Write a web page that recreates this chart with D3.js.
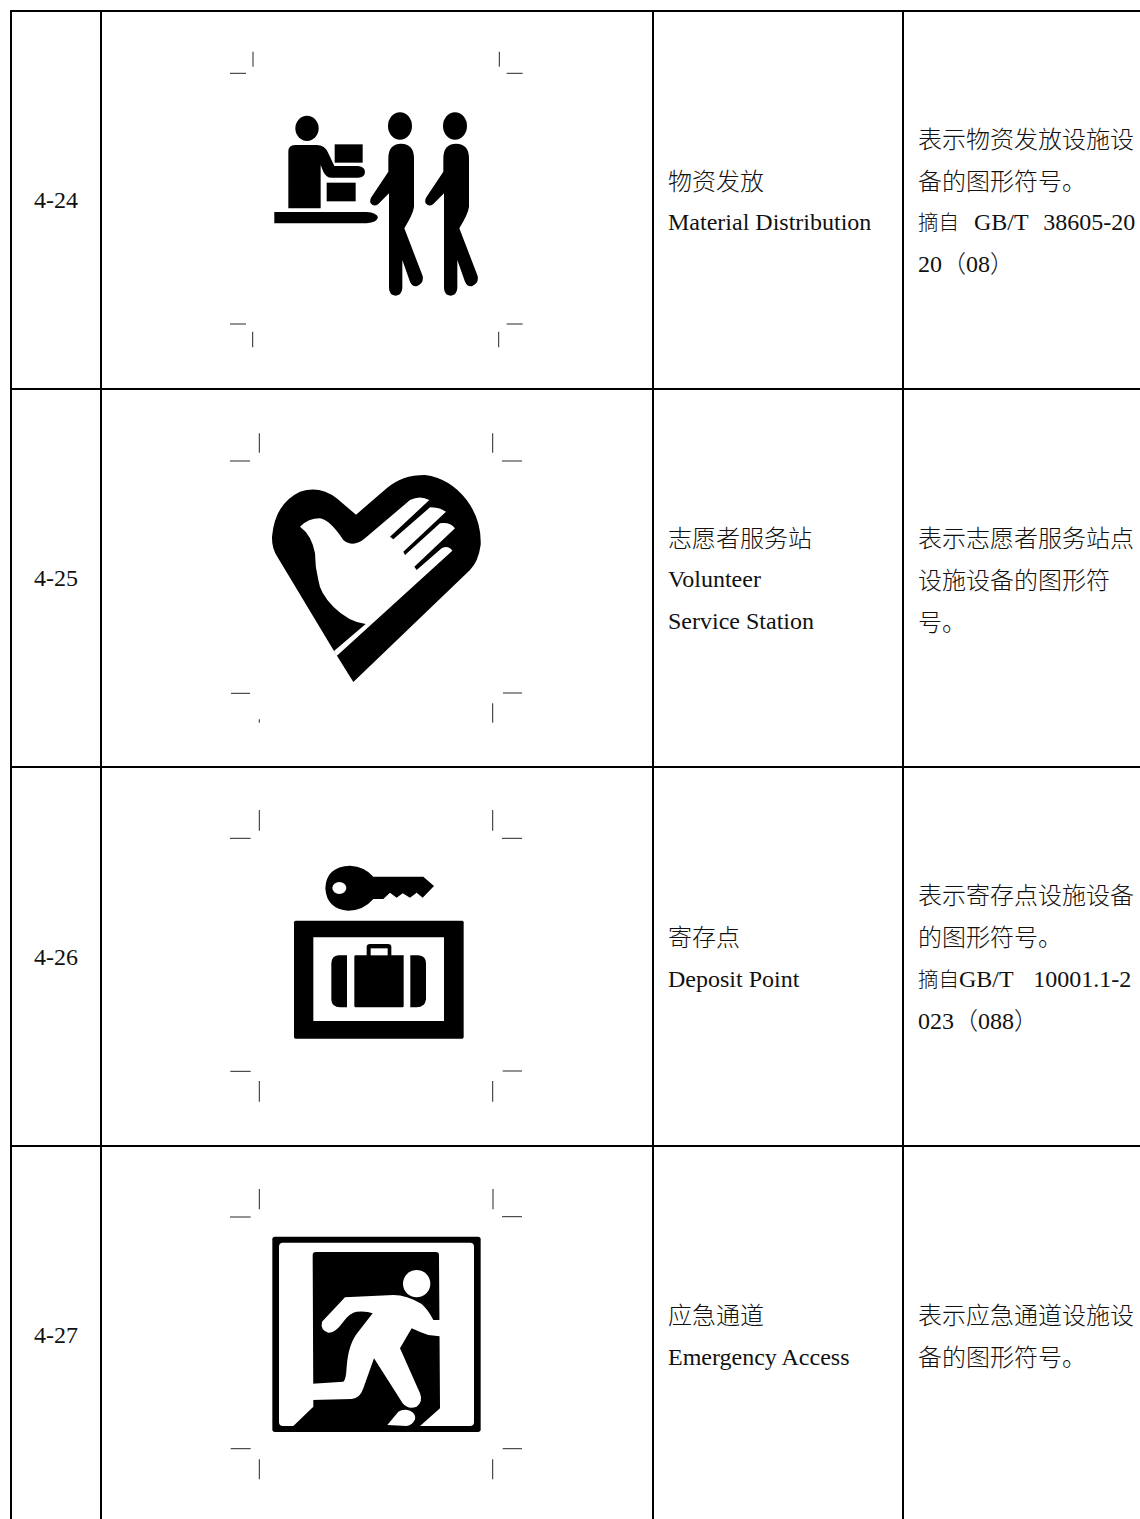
<!DOCTYPE html>
<html lang="zh">
<head>
<meta charset="utf-8">
<title>图形符号</title>
<script src="https://cdn.jsdelivr.net/npm/d3@7"></script>
<style>
  html, body { margin: 0; padding: 0; background: #fff; }
  svg { display: block; }
  text { font-family: "Liberation Serif", "Noto Sans CJK SC", serif; font-size: 24px; font-weight: 300; fill: #111; white-space: pre; }
</style>
</head>
<body>
<div id="chart"></div>
<script>
const codes = ['4-24', '4-25', '4-26', '4-27'];
const names = [
    ['物资发放', 'Material Distribution'],
    ['志愿者服务站', 'Volunteer', 'Service Station'],
    ['寄存点', 'Deposit Point'],
    ['应急通道', 'Emergency Access']
];
const descriptions = [
    ['表示物资发放设施设', '备的图形符号。', '摘自 GB/T 38605-20', '20（08）'],
    ['表示志愿者服务站点', '设施设备的图形符', '号。'],
    ['表示寄存点设施设备', '的图形符号。', '摘自GB/T 10001.1-2', '023（088）'],
    ['表示应急通道设施设', '备的图形符号。']
];
const icons = ['distribution', 'volunteer', 'deposit', 'exit'];

const width = 1140;
const height = 1519;
const columnEdges = [11, 101, 653, 903];
const rowEdges = [11, 389, 767, 1146, 1523];
const lineStep = 42;
// the source justifies these lines, so the space before the number differs per row
const citeGaps = [9, 0, 14, 0];

// icon outlines are traced at 3x, one origin per row
const iconOrigin = d3.scaleOrdinal().domain(icons).range([30, 420, 800, 1180]);
const iconLeft = 220;

const walker = 'M505,385Q505,342 543,341Q582,342 582,385L582,530Q580,550 553,595L608,738Q612,760 592,768Q578,772 570,755L547,690L547,775Q545,796 527,797Q508,796 507,775L507,490L475,522Q462,532 452,520Q448,510 455,500L505,425Z';

const iconParts = {
    distribution: [
        { d: 'M226,295a35,38 0 1,0 70,0a35,38 0 1,0 -70,0Z' },
        { d: 'M205,535L205,365Q205,345 225,345L290,345Q315,345 325,370L343,408L415,408Q435,410 435,427Q433,443 415,443L335,443Q318,443 310,425L302,405L302,535Z' },
        { d: 'M344,343H428V398H344Z' },
        { d: 'M320,458H407V514H320Z' },
        { d: 'M163,546L440,546Q470,548 474,562Q470,578 440,580L163,580Z' },
        { d: 'M504,288a36,41 0 1,0 72,0a36,41 0 1,0 -72,0Z' },
        { d: walker },
        { d: 'M669,288a36,41 0 1,0 72,0a36,41 0 1,0 -72,0Z' },
        { d: walker, shift: 165 }
    ],
    volunteer: [
        { d: 'M400,786L342,693L172,410Q155,385 156,350Q165,250 240,215Q300,195 350,235L408,284L500,205Q545,165 615,165Q690,175 740,240Q785,300 782,375Q775,425 750,450Z' },
        { d: 'M240,320Q265,295 300,295Q330,300 370,360Q400,385 435,355L570,240Q600,225 628,240L510,350L520,358L630,262Q660,262 678,275L550,395L555,405L660,310Q690,305 705,325L583,440L590,450L665,385Q685,375 697,392L350,708L342,693L437,612Q385,605 340,560Q300,520 295,480Q285,440 285,400Q275,345 240,320Z', fill: '#fff' }
    ],
    deposit: [
        { d: 'M316,265Q318,200 390,197Q435,200 460,230L610,230L642,258L608,293L590,278L570,293L548,280L530,293L510,278L490,297L460,297Q430,332 385,332Q320,328 316,265Z' },
        { d: 'M337,264a21,18 0 1,0 42,0a21,18 0 1,0 -42,0Z', fill: '#fff' },
        { d: 'M227,362H726Q731,362 731,367V711Q731,716 726,716H227Q222,716 222,711V367Q222,362 227,362Z' },
        { d: 'M280,412H672V663H280Z', fill: '#fff' },
        { d: 'M407,466H551V618Q551,622 547,622H407Q403,622 403,618V470Q403,466 407,466Z' },
        { d: 'M450,432H504Q514,432 514,442V470H440V442Q440,432 450,432Z' },
        { d: 'M452,445H503V466H452Z', fill: '#fff' },
        { d: 'M381,466L355,466Q335,468 334,490L334,600Q336,622 360,622L381,622Z' },
        { d: 'M571,466L595,466Q618,468 618,490L618,598Q615,622 590,622L571,622Z' }
    ],
    exit: [
        { d: 'M165,170H774Q782,170 782,178V748Q782,756 774,756H165Q157,756 157,748V178Q157,170 165,170Z' },
        { d: 'M189,188H750Q762,188 762,200V726Q762,738 750,738H189Q177,738 177,726V200Q177,188 189,188Z', fill: '#fff' },
        { d: 'M278,226Q278,216 288,216L647,216Q657,216 657,226L660,685L600,738L220,738L280,680Z' },
        { d: 'M549,311a41,41 0 1,0 82,0a41,41 0 1,0 -82,0Z', fill: '#fff' },
        { d: 'M375,352L520,345Q560,345 605,372Q625,390 640,420L672,420L672,470L625,465Q595,455 575,445L540,505L600,640Q610,665 590,680Q565,690 548,670L462,535L430,625Q420,655 395,657L275,660Q245,655 245,632Q247,612 265,612L370,605Q378,600 380,560Q385,490 415,455L458,400Q440,392 410,395Q390,398 370,425Q345,460 325,458Q300,450 306,425Z', fill: '#fff' },
        { d: 'M502,735L535,695Q550,685 570,692Q588,700 585,718Q578,735 560,738Z', fill: '#fff' }
    ]
};

// crop marks around each icon, same 3x units
const cropMarks = {
    distribution: ['M99,65V110', 'M30,130H78', 'M838,65V110', 'M860,130H908', 'M30,882H78', 'M98,905V952', 'M860,882H908', 'M836,905V952'],
    volunteer: ['M118,40V98', 'M30,123H90', 'M818,40V98', 'M846,123H906', 'M33,820H90', 'M118,898V908', 'M849,819H906', 'M818,850V908'],
    deposit: ['M118,30V92', 'M30,115H92', 'M818,30V92', 'M846,115H906', 'M31,814H92', 'M118,843V905', 'M848,813H906', 'M818,843V905'],
    exit: ['M118,27V88', 'M30,111H92', 'M819,27V88', 'M846,110H906', 'M32,806H92', 'M118,838V898', 'M848,806H906', 'M818,838V898']
};

const svg = d3.select('#chart')
    .append('svg')
    .attr('width', width)
    .attr('height', height);

const rowCenter = (i) => (rowEdges[i] + rowEdges[i + 1]) / 2;

// table rules
svg.append('g')
    .selectAll('line')
    .data(columnEdges)
    .enter()
    .append('line')
    .attr('x1', (d) => d)
    .attr('x2', (d) => d)
    .attr('y1', rowEdges[0] - 1)
    .attr('y2', height)
    .attr('stroke', '#000')
    .attr('stroke-width', 2);

svg.append('g')
    .selectAll('line')
    .data(rowEdges.slice(0, 4))
    .enter()
    .append('line')
    .attr('x1', columnEdges[0] - 1)
    .attr('x2', width)
    .attr('y1', (d) => d)
    .attr('y2', (d) => d)
    .attr('stroke', '#000')
    .attr('stroke-width', 2);

// icons
const iconGroups = svg.append('g')
    .selectAll('g')
    .data(icons)
    .enter()
    .append('g')
    .attr('transform', (d) => `translate(${iconLeft}, ${iconOrigin(d)}) scale(${1 / 3})`);

iconGroups.selectAll('path.part')
    .data((d) => iconParts[d])
    .enter()
    .append('path')
    .attr('class', 'part')
    .attr('d', (d) => d.d)
    .attr('fill', (d) => d.fill || '#000')
    .attr('transform', (d) => (d.shift ? `translate(${d.shift}, 0)` : null));

iconGroups.selectAll('path.mark')
    .data((d) => cropMarks[d])
    .enter()
    .append('path')
    .attr('class', 'mark')
    .attr('d', (d) => d)
    .attr('fill', 'none')
    .attr('stroke', '#333')
    .attr('stroke-width', 3.2);

function drawLines(lines, i, x) {
    const top = rowCenter(i) - (lines.length - 1) * lineStep / 2;
    const rows = svg.append('g')
        .selectAll('text')
        .data(lines)
        .enter()
        .append('text')
        .attr('x', x)
        // CJK glyphs sit a little lower than the Latin baseline in the source
        .attr('y', (d, j) => top + j * lineStep + (/[A-Za-z0-9]/.test(d) ? 9 : 10.5));

    rows.each(function (d) {
        const row = d3.select(this);
        if (d.startsWith('摘自')) {
            // 摘自 is squeezed to about 20px a character
            row.append('tspan').style('font-size', '20.5px').text('摘自');
            row.append('tspan')
                .style('word-spacing', `${citeGaps[i]}px`)
                .text(d.slice(2));
        } else {
            row.text(d);
        }
    });
}

codes.forEach((code, i) => {
    svg.append('text')
        .attr('x', (columnEdges[0] + columnEdges[1]) / 2)
        .attr('y', rowCenter(i) + 8)
        .attr('text-anchor', 'middle')
        .text(code);
    drawLines(names[i], i, columnEdges[2] + 15);
    drawLines(descriptions[i], i, columnEdges[3] + 15);
});
</script>
</body>
</html>
